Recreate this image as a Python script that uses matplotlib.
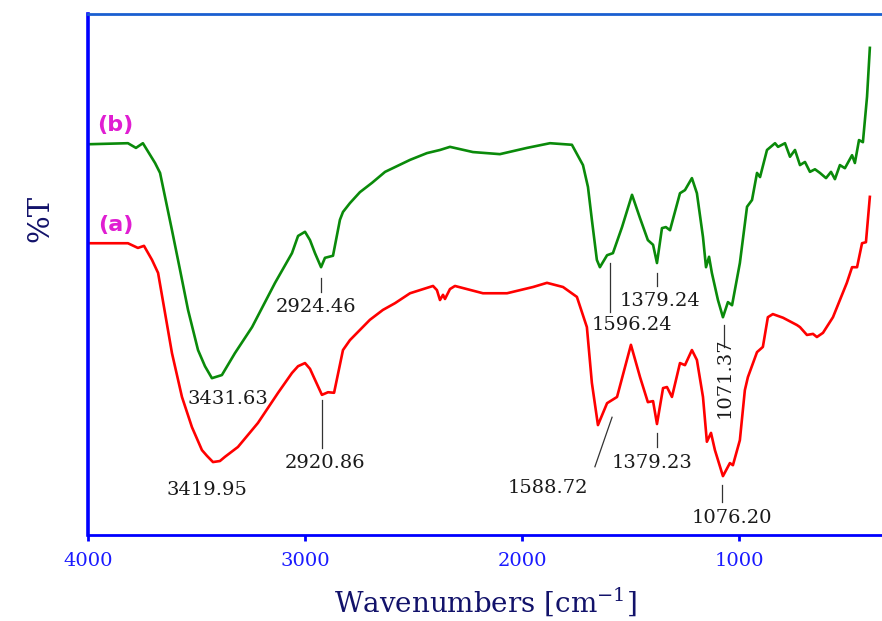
import matplotlib
matplotlib.use("Agg")
import matplotlib.pyplot as plt

plt.rcParams['mathtext.fontset'] = 'dejavuserif'

# spectrum (b) - green
wn_b = [4000, 3816, 3779, 3747, 3691, 3668, 3645, 3613, 3576, 3539, 3493, 3461,
        3429, 3383, 3323, 3244, 3138, 3060, 3032, 3000, 2977, 2954, 2926, 2908,
        2871, 2839, 2825, 2793, 2747, 2691, 2631, 2516, 2438, 2378, 2332, 2226,
        2102, 1977, 1871, 1770, 1719, 1696, 1678, 1655,
        1641, 1608, 1581, 1539, 1493, 1456, 1420, 1396, 1378, 1355, 1337, 1318,
        1272, 1249, 1217, 1194, 1166, 1152, 1138, 1125, 1097, 1074, 1051, 1032,
        996, 963, 940, 917, 903, 871, 834, 820, 788, 765, 742, 719, 696, 673,
        650, 627, 599, 576, 558, 535, 512, 479, 466, 447, 429, 410, 397]
t_b = [75.0, 75.2, 74.3, 75.2, 71.4, 69.5, 64.9, 58.5, 50.9, 43.2, 35.5, 32.4,
       30.1, 30.7, 34.9, 39.9, 48.4, 54.1, 57.4, 58.2, 56.6, 54.1, 51.4, 53.2,
       53.6, 60.5, 62.0, 63.7, 65.8, 67.6, 69.7, 72.0, 73.3, 73.9, 74.5, 73.5,
       73.1, 74.3, 75.2, 74.9, 71.0, 66.8, 60.5, 52.8,
       51.4, 53.7, 54.1, 59.1, 65.3, 60.8, 56.6, 55.7, 52.2, 58.9, 59.1, 58.5,
       65.6, 66.2, 68.5, 65.6, 57.2, 51.4, 53.4, 50.3, 45.1, 41.8, 44.7, 44.1,
       52.2, 63.0, 64.3, 69.5, 68.7, 73.9, 75.2, 74.5, 75.2, 72.6, 73.9, 71.0,
       71.6, 69.7, 70.2, 69.5, 68.5, 69.7, 68.3, 71.0, 70.4, 72.9, 71.4, 75.8,
       75.4, 84.1, 93.5]

# spectrum (a) - red
wn_a = [4000, 3816, 3770, 3742, 3705, 3677, 3645, 3613, 3567, 3521, 3475, 3452,
        3424, 3392, 3369, 3309, 3217, 3124, 3060, 3032, 3000, 2977, 2954, 2922,
        2894, 2866, 2825, 2793, 2760, 2701, 2641, 2585, 2516, 2410, 2392, 2378,
        2364, 2355, 2332, 2309, 2180, 2069, 1949,
        1885, 1811, 1747, 1701, 1678, 1650, 1608, 1562, 1498, 1456, 1420, 1396,
        1378, 1350, 1332, 1309, 1272, 1249, 1217, 1194, 1166, 1148, 1129, 1111,
        1074, 1042, 1028, 996, 973, 959, 917, 890, 867, 844, 797, 733, 719, 687,
        659, 641, 613, 567, 535, 503, 479, 456, 433, 415, 397]
t_a = [56.0, 56.0, 55.1, 55.5, 52.8, 50.3, 42.6, 34.9, 26.5, 20.7, 16.3, 15.2,
       14.0, 14.2, 15.0, 16.9, 21.5, 27.3, 31.1, 32.4, 33.0, 31.9, 29.8, 26.9,
       27.4, 27.3, 35.5, 37.4, 38.8, 41.3, 43.2, 44.5, 46.4, 47.8, 47.0, 45.1,
       46.1, 45.3, 47.2, 47.8, 46.4, 46.4, 47.6,
       48.4, 47.6, 45.7, 39.9, 29.2, 21.1, 25.3, 26.5, 36.5, 30.3, 25.5, 25.7,
       21.3, 28.2, 28.4, 26.5, 33.0, 32.6, 35.5, 33.6, 26.5, 17.9, 19.6, 16.3,
       11.3, 13.8, 13.4, 18.2, 27.8, 30.3, 35.1, 36.1, 41.8, 42.4, 41.7, 40.3,
       39.9, 38.4, 38.6, 38.0, 38.8, 41.8, 45.1, 48.4, 51.4, 51.4, 56.0, 56.2,
       64.9]

x_ticks = [4000, 3000, 2000, 1000]

fig = plt.figure(figsize=(8.82, 6.21), dpi=100)
ax = fig.add_axes([88 / 882, 1 - 535 / 621, 1 - 88 / 882, 521 / 621])

ax.plot(wn_b, t_b, color='#0a8a0a', lw=1.9, solid_joinstyle='round')
ax.plot(wn_a, t_a, color='#ff0000', lw=1.9, solid_joinstyle='round')

ax.set_xlim(4000, 341)
ax.set_ylim(0, 100)
ax.set_xticks(x_ticks)
ax.set_xticklabels([str(v) for v in x_ticks], family='DejaVu Serif',
                   fontsize=14, color='#1a1aff')
ax.set_yticks([])
ax.tick_params(axis='x', direction='out', length=4, width=2, color='#0000ff', pad=8)

ax.spines['right'].set_visible(False)
ax.spines['top'].set_color('#1a5fd0')
ax.spines['top'].set_linewidth(2)
ax.spines['left'].set_color('#0000ff')
ax.spines['left'].set_linewidth(2.6)
ax.spines['bottom'].set_color('#0000ff')
ax.spines['bottom'].set_linewidth(2)

ax.set_xlabel('Wavenumbers [cm$^{-1}$]', family='DejaVu Serif', fontsize=20,
              color='#12126a', labelpad=11)
fig.text(40 / 882, 1 - 218 / 621, '%T', rotation=90, family='DejaVu Serif',
         fontsize=21, color='#12126a', ha='center', va='center')

# sample labels
ax.text(3876, 78.7, '(b)', color='#e01ed2', fontsize=16, fontweight='bold',
        ha='center', va='center')
ax.text(3871, 59.5, '(a)', color='#e01ed2', fontsize=16, fontweight='bold',
        ha='center', va='center')

# peak annotations
lc = '#333333'
tf = dict(family='DejaVu Serif', fontsize=14, color='#1a1a1a', ha='center', va='center')

ax.plot([2924.46, 2924.46], [49.3, 46.6], color=lc, lw=0.9)
ax.text(2950, 43.8, '2924.46', **tf)
ax.text(3355, 26.1, '3431.63', **tf)
ax.text(3452, 8.6, '3419.95', **tf)
ax.plot([2920.86, 2920.86], [25.9, 16.7], color=lc, lw=0.9)
ax.text(2908, 13.8, '2920.86', **tf)
ax.plot([1596.24, 1596.24], [52.2, 42.8], color=lc, lw=0.9)
ax.text(1493, 40.3, '1596.24', **tf)
ax.plot([1379.24, 1379.24], [50.3, 47.8], color=lc, lw=0.9)
ax.text(1364, 44.9, '1379.24', **tf)
ax.plot([1071.37, 1071.37], [40.3, 36.1], color=lc, lw=0.9)
ax.text(1065, 30.1, '1071.37', rotation=90, **tf)
ax.plot([1585, 1664], [22.6, 13.1], color=lc, lw=0.9)
ax.text(1880, 9.0, '1588.72', **tf)
ax.plot([1379.23, 1379.23], [19.6, 16.9], color=lc, lw=0.9)
ax.text(1401, 13.8, '1379.23', **tf)
ax.plot([1076.20, 1076.20], [9.6, 6.3], color=lc, lw=0.9)
ax.text(1032, 3.3, '1076.20', **tf)

fig.savefig('out.png', dpi=100)
